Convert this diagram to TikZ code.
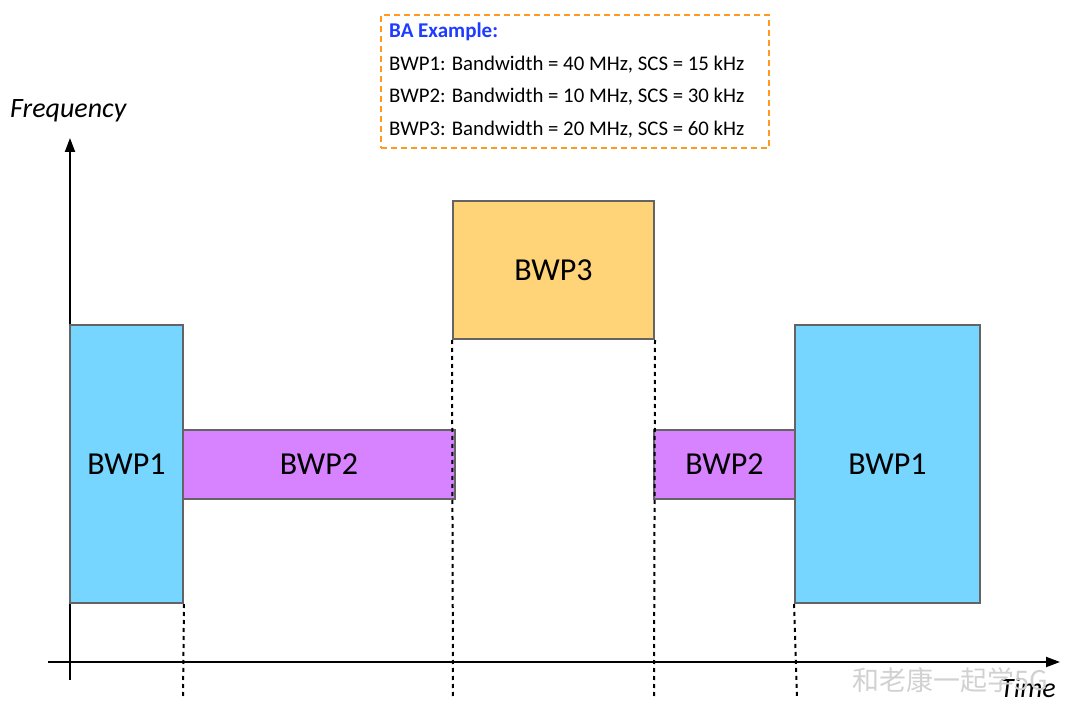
\documentclass[tikz,border=0pt]{standalone}
\usepackage{fontspec}
\setmainfont{Carlito}
\newfontfamily\cjkfont{Noto Sans CJK SC}
\definecolor{bwpone}{HTML}{76D6FF}
\definecolor{bwptwo}{HTML}{D783FF}
\definecolor{bwpthree}{HTML}{FFD479}
\definecolor{boxedge}{HTML}{646464}
\definecolor{baorange}{HTML}{FF9A1E}
\definecolor{bablue}{HTML}{1E3CFF}
\usetikzlibrary{arrows.meta}
\tikzset{
  bwp/.style={draw=boxedge, line width=2pt, font=\fontsize{32}{36}\selectfont},
  guide/.style={line width=2pt, dash pattern=on 4pt off 4pt},
  axis/.style={line width=2pt, -{Triangle[length=14pt,width=10pt]}},
  infotext/.style={anchor=west, font=\fontsize{20.8}{24}\selectfont, inner sep=0pt},
  axislabel/.style={font=\fontsize{28}{32}\selectfont\itshape, anchor=base west, inner sep=0pt},
}
\begin{document}
\begin{tikzpicture}[x=1pt,y=-1pt]
\useasboundingbox (0,0) rectangle (1080,727);
% axes
\coordinate (yb) at (70,680);
\coordinate (yt) at (70,138);
\coordinate (xl) at (48,662);
\coordinate (xr) at (1060,662);
\draw[axis] (yb) -- (yt);
\draw[axis] (xl) -- (xr);
\node[axislabel] (freq) at (10,118) {Frequency};
\node[axislabel] (time) at (1000,697) {Time};
% boxes
\node[bwp, fill=bwpone, minimum width=113pt, minimum height=278pt] (b1l) at (126.5,464) {BWP1};
\node[bwp, fill=bwptwo, minimum width=272pt, minimum height=69pt] (b2l) at (319,464.5) {BWP2};
\node[bwp, fill=bwpthree, minimum width=201pt, minimum height=138pt] (b3) at (553.5,270) {BWP3};
\node[bwp, fill=bwptwo, minimum width=141pt, minimum height=69pt] (b2r) at (724.5,464.5) {BWP2};
\node[bwp, fill=bwpone, minimum width=185pt, minimum height=278pt] (b1r) at (887.5,464) {BWP1};
% guides
\coordinate (g1) at (183,698);
\coordinate (g2) at (453,698);
\coordinate (g3) at (654,698);
\coordinate (g4) at (797,698);
\draw[guide] (b1l.south east) -- (g1);
\draw[guide] (b3.south west) -- (g2);
\draw[guide] (b3.south east) -- (g3);
\draw[guide] (b1r.south west) -- (g4);
% info box
\node[draw=baorange, line width=2pt, dash pattern=on 6pt off 4pt, minimum width=388pt, minimum height=133pt] (info) at (575,81.5) {};
\node[infotext, font=\fontsize{21}{24}\selectfont\bfseries, text=bablue] (t0) at (389,32) {BA Example:};
\node[infotext] (t1) at (389,64.5) {BWP1: Bandwidth = 40 MHz, SCS = 15 kHz};
\node[infotext] (t2) at (389,97) {BWP2: Bandwidth = 10 MHz, SCS = 30 kHz};
\node[infotext] (t3) at (389,129.5) {BWP3: Bandwidth = 20 MHz, SCS = 60 kHz};
% watermark
\node[anchor=west, inner sep=0pt, text=black!18, font=\fontsize{27}{30}\selectfont\cjkfont] (wm) at (852,680) {和老康一起学5G};
\end{tikzpicture}
\end{document}
